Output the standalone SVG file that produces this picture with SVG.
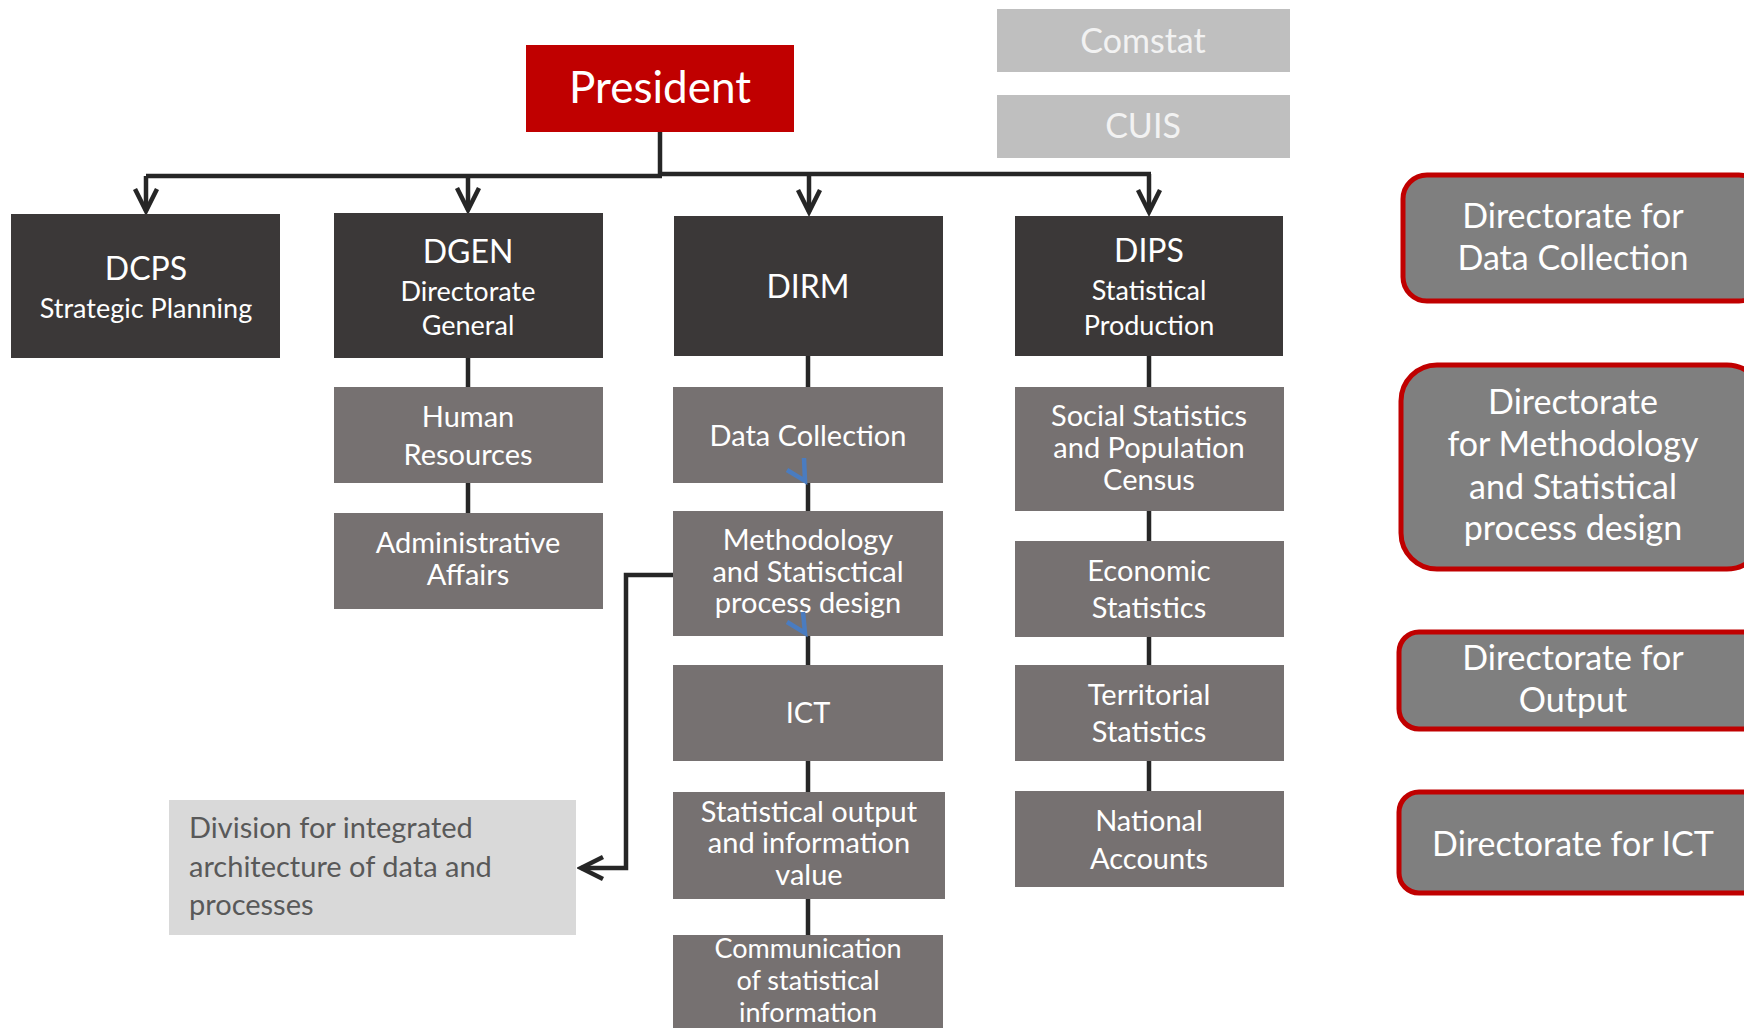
<svg xmlns="http://www.w3.org/2000/svg" width="1744" height="1028" viewBox="0 0 1744 1028">
<defs>
<style>
text{font-family:Lato,"Liberation Sans",sans-serif;text-anchor:middle;fill:#ffffff}
.dark{fill:#3b3838}
.mid{fill:#767171}
.lite{fill:#bfbfbf}
.red{fill:#c00000}
.dir{fill:#7f7f7f;stroke:#c00000;stroke-width:5}
.t1{font-size:32px}
.t2{font-size:27px}
.t3{font-size:29px}
.tr{font-size:34px}
.conn{fill:none;stroke:#262626;stroke-width:4.5}
.blue{fill:none;stroke:#4a7cc0;stroke-width:4.5;stroke-linejoin:miter}
</style>
<marker id="ah" viewBox="-26 -16 30 32" refX="0" refY="0" markerWidth="30" markerHeight="32" markerUnits="userSpaceOnUse" orient="auto">
<path d="M-22,-11 L0,0 L-22,11" fill="none" stroke="#262626" stroke-width="4.5"/>
</marker>
</defs>

<g id="connectors">
<path class="conn" d="M660,132 V176"/>
<path class="conn" d="M146,176 H662"/>
<path class="conn" d="M658,174 H1151"/>
<path class="conn" d="M146,176 V211" marker-end="url(#ah)"/>
<path class="conn" d="M468,176 V210" marker-end="url(#ah)"/>
<path class="conn" d="M809,174 V212" marker-end="url(#ah)"/>
<path class="conn" d="M1149,174 V212" marker-end="url(#ah)"/>
<path class="conn" d="M468,358 V513"/>
<path class="conn" d="M808,356 V935"/>
<path class="conn" d="M1149,356 V791"/>
<path class="conn" d="M673,575 H626 V868 H581" marker-end="url(#ah)"/>
</g>

<g id="president"><rect class="red" x="526" y="45" width="268" height="87"/><text x="660" y="103" style="font-size:44px">President</text></g>
<g id="comstat"><rect class="lite" x="997" y="9" width="293" height="63"/><text x="1143" y="53" style="font-size:34px;fill:#f2f2f2">Comstat</text></g>
<g id="cuis"><rect class="lite" x="997" y="95" width="293" height="63"/><text x="1143" y="138" style="font-size:34px;fill:#f2f2f2">CUIS</text></g>

<g id="dcps"><rect class="dark" x="11" y="214" width="269" height="144"/><text class="t1" x="146" y="280">DCPS</text><text class="t2" x="146" y="318">Strategic Planning</text></g>
<g id="dgen"><rect class="dark" x="334" y="213" width="269" height="145"/><text class="t1" x="468" y="263">DGEN</text><text class="t2" x="468" y="301">Directorate</text><text class="t2" x="468" y="335">General</text></g>
<g id="dirm"><rect class="dark" x="674" y="216" width="269" height="140"/><text class="t1" x="808" y="298">DIRM</text></g>
<g id="dips"><rect class="dark" x="1015" y="216" width="268" height="140"/><text class="t1" x="1149" y="262">DIPS</text><text class="t2" x="1149" y="300">Statistical</text><text class="t2" x="1149" y="335">Production</text></g>

<g id="hr"><rect class="mid" x="334" y="387" width="269" height="96"/><text class="t3" x="468" y="427">Human</text><text class="t3" x="468" y="465">Resources</text></g>
<g id="admin"><rect class="mid" x="334" y="513" width="269" height="96"/><text class="t3" x="468" y="553">Administrative</text><text class="t3" x="468" y="585">Affairs</text></g>

<g id="datacollection"><rect class="mid" x="673" y="387" width="270" height="96"/><text class="t3" x="808" y="446">Data Collection</text></g>
<g id="methodology"><rect class="mid" x="673" y="511" width="270" height="125"/><text class="t3" x="808" y="550">Methodology</text><text class="t3" x="808" y="582">and Statisctical</text><text class="t3" x="808" y="613">process design</text></g>
<g id="ict"><rect class="mid" x="673" y="665" width="270" height="96"/><text class="t3" x="808" y="723">ICT</text></g>
<g id="statoutput"><rect class="mid" x="673" y="792" width="272" height="107"/><text class="t3" x="809" y="822">Statistical output</text><text class="t3" x="809" y="853">and information</text><text class="t3" x="809" y="885">value</text></g>
<g id="communication"><rect class="mid" x="673" y="935" width="270" height="95"/><text class="t2" x="808" y="958">Communication</text><text class="t2" x="808" y="990">of statistical</text><text class="t2" x="808" y="1022">information</text></g>

<g id="social"><rect class="mid" x="1015" y="387" width="269" height="124"/><text class="t3" x="1149" y="426">Social Statistics</text><text class="t3" x="1149" y="458">and Population</text><text class="t3" x="1149" y="490">Census</text></g>
<g id="economic"><rect class="mid" x="1015" y="541" width="269" height="96"/><text class="t3" x="1149" y="581">Economic</text><text class="t3" x="1149" y="618">Statistics</text></g>
<g id="territorial"><rect class="mid" x="1015" y="665" width="269" height="96"/><text class="t3" x="1149" y="705">Territorial</text><text class="t3" x="1149" y="742">Statistics</text></g>
<g id="national"><rect class="mid" x="1015" y="791" width="269" height="96"/><text class="t3" x="1149" y="831">National</text><text class="t3" x="1149" y="869">Accounts</text></g>

<g id="division"><rect x="169" y="800" width="407" height="135" fill="#d9d9d9"/><text x="189" y="838" style="font-size:29px;fill:#595959;text-anchor:start">Division for integrated</text><text x="189" y="877" style="font-size:29px;fill:#595959;text-anchor:start">architecture of data and</text><text x="189" y="915" style="font-size:29px;fill:#595959;text-anchor:start">processes</text></g>

<g id="dir-datacollection"><rect class="dir" x="1403" y="175" width="360" height="126" rx="24"/><text class="tr" x="1573" y="228">Directorate for</text><text class="tr" x="1573" y="270">Data Collection</text></g>
<g id="dir-methodology"><rect class="dir" x="1401" y="365" width="362" height="204" rx="36"/><text class="tr" x="1573" y="414">Directorate</text><text class="tr" x="1573" y="456">for Methodology</text><text class="tr" x="1573" y="499">and Statistical</text><text class="tr" x="1573" y="540">process design</text></g>
<g id="dir-output"><rect class="dir" x="1399" y="632" width="364" height="97" rx="20"/><text class="tr" x="1573" y="670">Directorate for</text><text class="tr" x="1573" y="712">Output</text></g>
<g id="dir-ict"><rect class="dir" x="1399" y="792" width="364" height="101" rx="20"/><text class="tr" x="1573" y="856">Directorate for ICT</text></g>

<g id="blue-marks">
<polyline class="blue" points="787,470 805,481 804,458"/>
<polyline class="blue" points="787,622 805,633 803,612"/>
</g>
</svg>
